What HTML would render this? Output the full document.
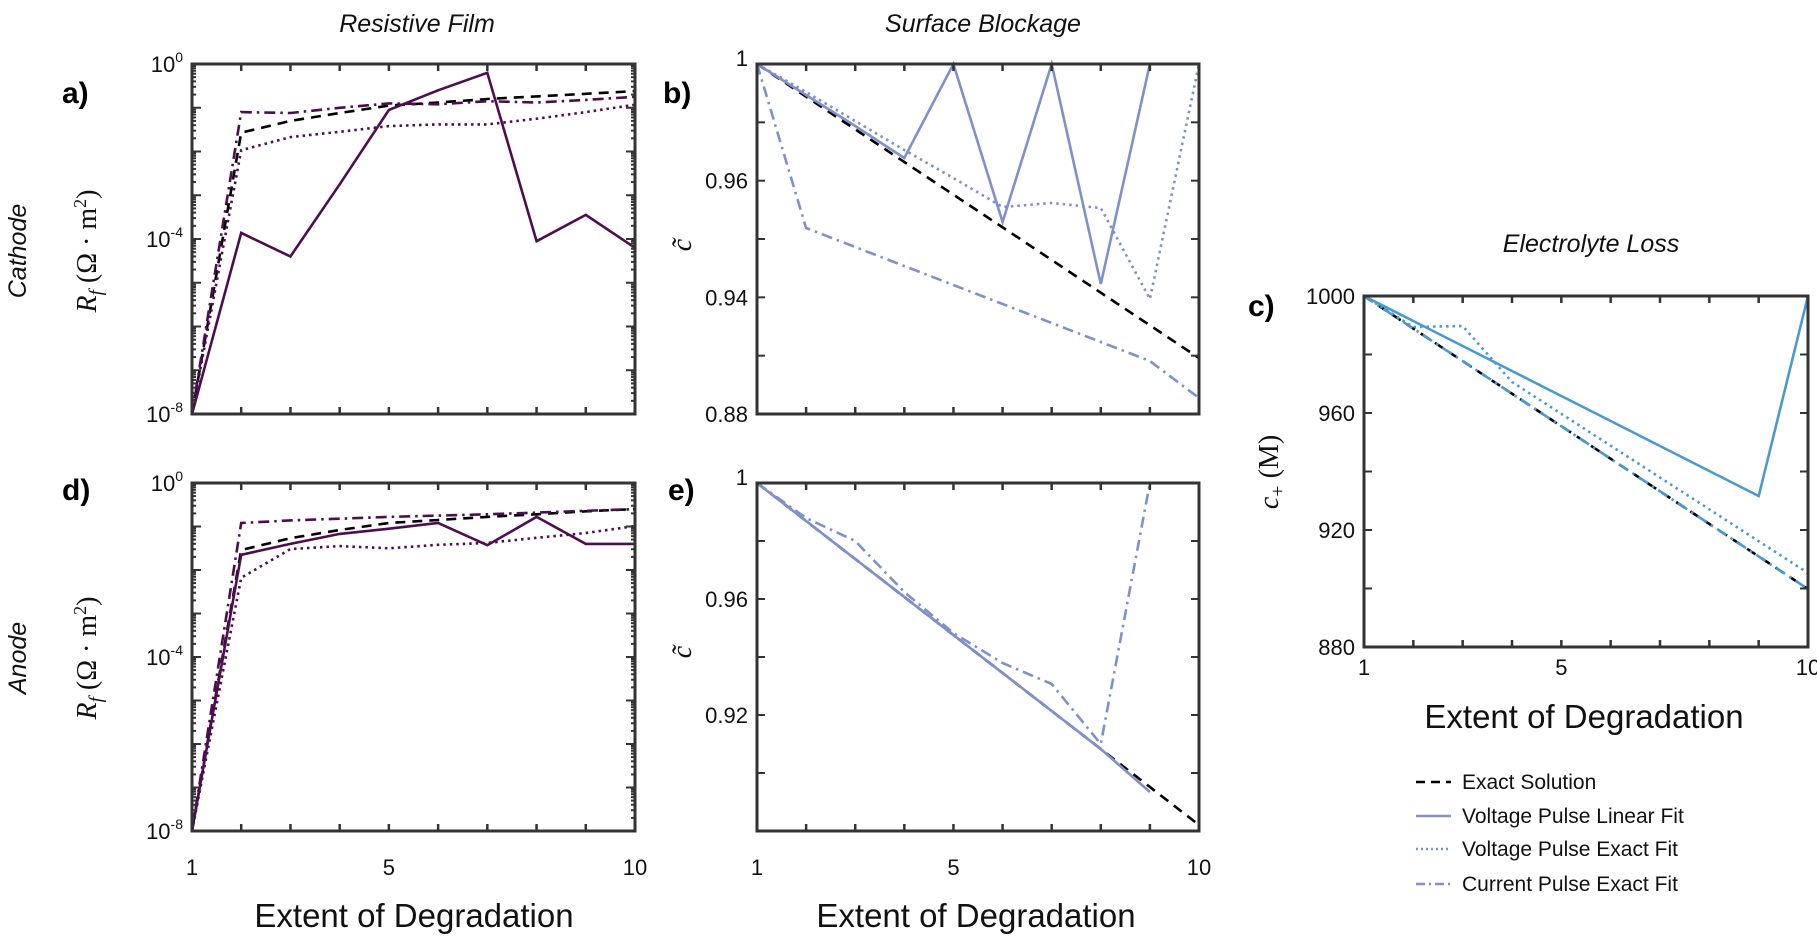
<!DOCTYPE html>
<html><head><meta charset="utf-8"><style>
html,body{margin:0;padding:0;background:#fff;}
svg{display:block;font-family:"Liberation Sans",sans-serif;}
</style></head><body>
<svg id="s" width="1817" height="938" viewBox="0 0 1817 938" xmlns="http://www.w3.org/2000/svg">
<g font-style="italic" font-size="25" text-anchor="middle" fill="#111">
<text x="417" y="32">Resistive Film</text>
<text x="983" y="32">Surface Blockage</text>
<text x="1591" y="252">Electrolyte Loss</text>
</g>
<g font-style="italic" font-size="25" text-anchor="middle" fill="#111">
<text transform="translate(26,251) rotate(-90)">Cathode</text>
<text transform="translate(26,658) rotate(-90)">Anode</text>
</g>
<g font-weight="bold" font-size="30" fill="#000">
<text x="62" y="103">a)</text>
<text x="663" y="103">b)</text>
<text x="1248" y="316">c)</text>
<text x="62" y="500">d)</text>
<text x="668" y="500">e)</text>
</g>
<g font-family="Liberation Serif,serif" font-size="28" fill="#111" text-anchor="middle">
<text transform="translate(96,251) rotate(-90)"><tspan font-style="italic">R</tspan><tspan font-style="italic" font-size="19" dy="6">f</tspan><tspan dy="-6"> (Ω · m</tspan><tspan font-size="18" dy="-10">2</tspan><tspan dy="10">)</tspan></text>
<text transform="translate(96,658) rotate(-90)"><tspan font-style="italic">R</tspan><tspan font-style="italic" font-size="19" dy="6">f</tspan><tspan dy="-6"> (Ω · m</tspan><tspan font-size="18" dy="-10">2</tspan><tspan dy="10">)</tspan></text>
<text transform="translate(691,245) rotate(-90)" font-style="italic">c̃</text>
<text transform="translate(691,652) rotate(-90)" font-style="italic">c̃</text>
<text transform="translate(1278,472) rotate(-90)"><tspan font-style="italic">c</tspan><tspan font-size="20" dy="6">+</tspan><tspan dy="-6"> (M)</tspan></text>
</g>
<g font-size="33" text-anchor="middle" fill="#111">
<text x="414" y="927">Extent of Degradation</text>
<text x="976" y="927">Extent of Degradation</text>
<text x="1584" y="728">Extent of Degradation</text>
</g>
<g id="plots"></g>
<g font-size="21" fill="#111">
<line x1="1416" y1="782" x2="1451" y2="782" stroke="#000" stroke-width="2.5" stroke-dasharray="9 6"/>
<text x="1462" y="789">Exact Solution</text>
<line x1="1416" y1="816" x2="1451" y2="816" stroke="#8090c8" stroke-width="2.5"/>
<text x="1462" y="823">Voltage Pulse Linear Fit</text>
<line x1="1416" y1="849" x2="1451" y2="849" stroke="#8090c8" stroke-width="2.5" stroke-dasharray="2 3"/>
<text x="1462" y="856">Voltage Pulse Exact Fit</text>
<line x1="1416" y1="884" x2="1451" y2="884" stroke="#8090c8" stroke-width="2.5" stroke-dasharray="9 4 2 4"/>
<text x="1462" y="891">Current Pulse Exact Fit</text>
</g>
</svg>
<script>
var NS="http://www.w3.org/2000/svg",G=document.getElementById("plots");
function el(t,a,txt){var e=document.createElementNS(NS,t);for(var k in a)e.setAttribute(k,a[k]);if(txt!=null)e.textContent=txt;G.appendChild(e);return e;}
var DASH={s:"",d:"10 7",o:"2.5 4",dd:"11 5 2.5 5"};
function panel(L,T,R,B,opt){
 var ux=(R-L)/9;
 function X(i){return L+(i-1)*ux;}
 opt.series.forEach(function(s){
   var pts=[];
   s.y.forEach(function(v,i){if(v!==null&&v!==undefined)pts.push(X(i+1).toFixed(1)+","+opt.Y(v).toFixed(1));});
   el("polyline",{points:pts.join(" "),fill:"none",stroke:s.c,"stroke-width":2.6,"stroke-dasharray":DASH[s.d],"stroke-linejoin":"miter"});
 });
 el("rect",{x:L,y:T,width:R-L,height:B-T,fill:"none",stroke:"#333","stroke-width":3});
 for(var i=2;i<=9;i++){el("line",{x1:X(i),y1:T,x2:X(i),y2:T+7,stroke:"#333","stroke-width":2.5});el("line",{x1:X(i),y1:B,x2:X(i),y2:B-7,stroke:"#333","stroke-width":2.5});}
 opt.ticks.forEach(function(t){el("line",{x1:L,y1:t[0],x2:L+(t[2]||7),y2:t[0],stroke:"#333","stroke-width":2});el("line",{x1:R,y1:t[0],x2:R-(t[2]||7),y2:t[0],stroke:"#333","stroke-width":2});});
 opt.labels.forEach(function(t){var e=el("text",{x:L-9,y:t[0]+8,"text-anchor":"end","font-size":22,fill:"#111"});
   if(t[2]){e.textContent="10";var sp=document.createElementNS(NS,"tspan");sp.setAttribute("font-size","14");sp.setAttribute("dy","-10");sp.textContent=t[2];e.appendChild(sp);}else e.textContent=t[1];});
 if(opt.xl){[[1,"1"],[5,"5"],[10,"10"]].forEach(function(a){el("text",{x:X(a[0]),y:opt.xl,"text-anchor":"middle","font-size":22,fill:"#111"},a[1]);});}
}
function logT(T,B){var d=(B-T)/8,t=[];for(var k=0;k<8;k++){t.push([T+k*d,0,9]);for(var m=2;m<10;m++)t.push([T+(k+1)*d-Math.log10(m)*d,0,4]);}t.push([B,0,9]);return t;}
var P="#4d0d4f",LB="#8090c8",CB="#4a9ad0";
(function(){var T=64,B=414;function Y(v){return T+(-v)*(B-T)/8;}
panel(192,T,635,B,{Y:Y,ticks:logT(T,B),labels:[[T,"","0"],[T+(B-T)/2,"","-4"],[B,"","-8"]],series:[
 {c:"#000",d:"d",y:[-8,-1.57,-1.3,-1.12,-0.95,-0.88,-0.8,-0.74,-0.68,-0.62]},
 {c:P,d:"o",y:[-8,-1.97,-1.67,-1.55,-1.42,-1.38,-1.38,-1.25,-1.1,-0.93]},
 {c:P,d:"dd",y:[-8,-1.1,-1.12,-1.0,-0.9,-0.92,-0.85,-0.88,-0.82,-0.75]},
 {c:P,d:"s",y:[-8,-3.86,-4.4,-2.75,-1.05,-0.6,-0.2,-4.05,-3.45,-4.2]}]});})();
(function(){var T=483,B=831;function Y(v){return T+(-v)*(B-T)/8;}
panel(192,T,635,B,{Y:Y,xl:875,ticks:logT(T,B),labels:[[T,"","0"],[T+(B-T)/2,"","-4"],[B,"","-8"]],series:[
 {c:"#000",d:"d",y:[-8,-1.54,-1.27,-1.08,-0.92,-0.85,-0.78,-0.72,-0.65,-0.6]},
 {c:P,d:"o",y:[-8,-2.18,-1.52,-1.45,-1.5,-1.42,-1.38,-1.26,-1.15,-0.99]},
 {c:P,d:"dd",y:[-8,-0.92,-0.86,-0.82,-0.78,-0.75,-0.72,-0.68,-0.64,-0.6]},
 {c:P,d:"s",y:[-8,-1.65,-1.4,-1.17,-1.05,-0.92,-1.43,-0.78,-1.4,-1.4]}]});})();
(function(){var T=64,B=414,st=(B-T)/6;function Y(v){return v;}var tk=[];for(var i=0;i<=6;i++)tk.push([T+i*st,0,8]);
var bl=[];for(var i=0;i<10;i++)bl.push(64+i*(358-64)/9);
panel(757,T,1199,B,{Y:Y,ticks:tk,labels:[[T-6,"1"],[T+2*st,"0.96"],[T+4*st,"0.94"],[B,"0.88"]],series:[
 {c:"#000",d:"d",y:bl},
 {c:LB,d:"o",y:[64,92,121,150,178,207,203,208,299,64]},
 {c:LB,d:"dd",y:[64,228,247,266,285,304,323,342,361,398]},
 {c:LB,d:"s",y:[64,95,126,158,64,222,64,284,64,64]}]});})();
(function(){var T=483,B=831,st=(B-T)/6;function Y(v){return v;}var tk=[];for(var i=0;i<=6;i++)tk.push([T+i*st,0,8]);
var bl=[];for(var i=0;i<10;i++)bl.push(483+i*38);
var so=bl.slice(0,9).concat([null]);so[8]=792;
panel(757,T,1199,B,{Y:Y,xl:875,ticks:tk,labels:[[T-6,"1"],[T+2*st,"0.96"],[T+4*st,"0.92"]],series:[
 {c:"#000",d:"d",y:bl},
 {c:LB,d:"o",y:so},
 {c:LB,d:"s",y:so},
 {c:LB,d:"dd",y:[483,518,541,592,633,663,684,744,483,null]}]});})();
(function(){var T=296,B=647,st=(B-T)/6;function Y(v){return v;}var tk=[];for(var i=0;i<=6;i++)tk.push([T+i*st,0,8]);
var bl=[];for(var i=0;i<10;i++)bl.push(296+i*(589-296)/9);
var dd=bl.slice();
panel(1364,T,1808,B,{Y:Y,xl:675,ticks:tk,labels:[[T,"1000"],[T+2*st,"960"],[T+4*st,"920"],[B,"880"]],series:[
 {c:"#000",d:"d",y:bl},
 {c:CB,d:"dd",y:dd},
 {c:CB,d:"o",y:[296,327,326,382,411,440,469,498,527,573].map(function(v,i){return i>=4?382+(i-3)*(573-382)/6:v;})},
 {c:CB,d:"s",y:[296,321,346,371,396,421,446,471,496,296]}]});})();
</script>
</body></html>
